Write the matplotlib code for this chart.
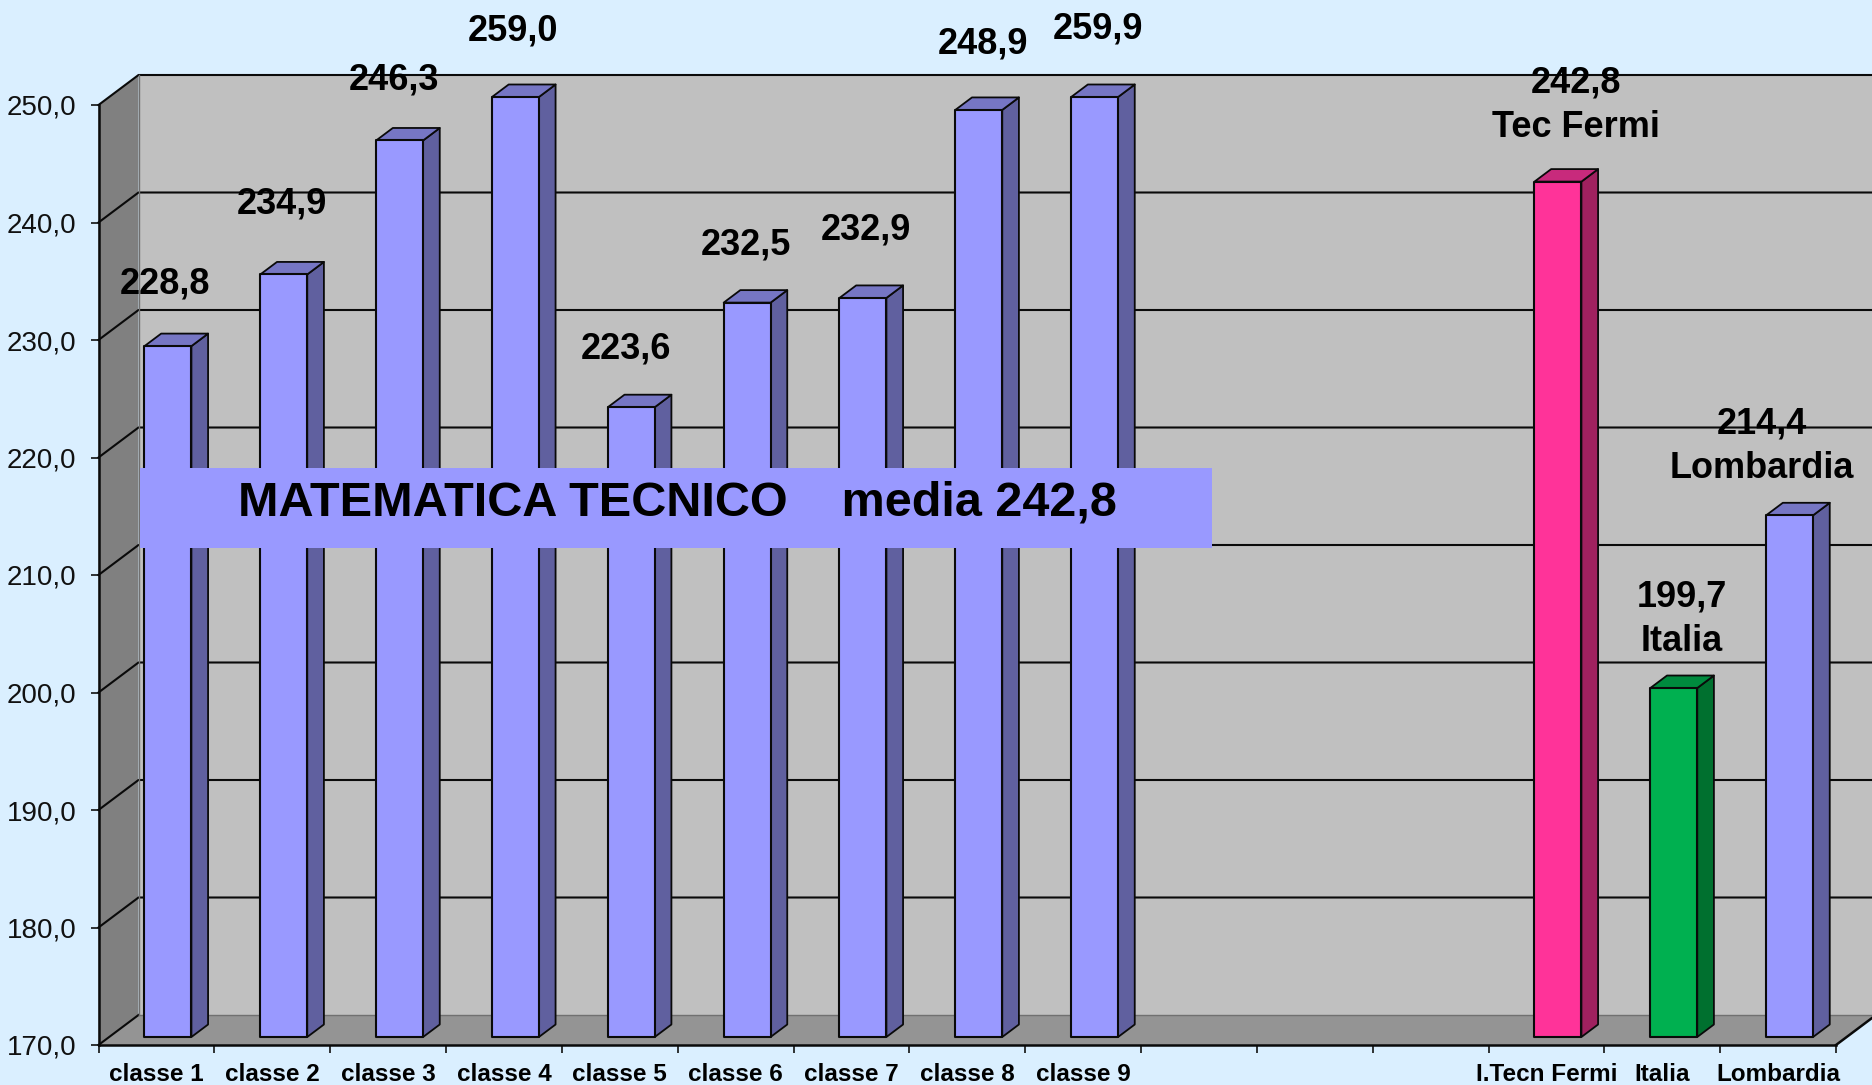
import numpy as np
import matplotlib
matplotlib.use("Agg")
import matplotlib.pyplot as plt
from matplotlib.patches import Polygon, Rectangle

# --- data ---
categories = ["classe 1", "classe 2", "classe 3", "classe 4", "classe 5", "classe 6",
              "classe 7", "classe 8", "classe 9", "", "", "",
              "I.Tecn Fermi", "Italia", "Lombardia"]
values = [228.8, 234.9, 246.3, 259.0, 223.6, 232.5, 232.9, 248.9, 259.9,
          None, None, None, 242.8, 199.7, 214.4]
y_ticks = [170, 180, 190, 200, 210, 220, 230, 240, 250]
point_labels = ["228,8", "234,9", "246,3", "259,0", "223,6", "232,5", "232,9", "248,9", "259,9",
                "", "", "", "242,8\nTec Fermi", "199,7\nItalia", "214,4\nLombardia"]
label_px = [(165, 284), (282, 204), (394, 80), (513, 31), (626, 349), (746, 245),
            (866, 230), (983, 44), (1098, 29), None, None, None,
            (1576, 105), (1682, 619), (1762, 446)]
title = "MATEMATICA TECNICO    media 242,8"

# colours: front, side, top
BLUE = ("#9999FF", "#60609F", "#7676C4")
PINK = ("#FF3399", "#A0215F", "#C82A7C")
GREEN = ("#00B050", "#00702F", "#008A3E")
bar_colors = [BLUE] * 12 + [PINK, GREEN, BLUE]

W, H = 1872, 1085
AX_L, AX_R, AX_B, AX_T = 98.5, 1836, 1045, 105
DEPTH_X, DEPTH_Y = 40, 30  # 3d offset of the back wall, pixels

fig = plt.figure(figsize=(W / 100, H / 100), dpi=100, facecolor="#DAEFFF")
plt.rcParams["font.family"] = ["Liberation Sans", "DejaVu Sans"]
ax = fig.add_axes([AX_L / W, (H - AX_B) / H, (AX_R - AX_L) / W, (AX_B - AX_T) / H])
ax.patch.set_visible(False)
ax.set_xlim(0, len(categories))
ax.set_ylim(y_ticks[0], y_ticks[-1])

# depth expressed in data units
dx = DEPTH_X / ((AX_R - AX_L) / len(categories))
dy = DEPTH_Y / ((AX_B - AX_T) / (y_ticks[-1] - y_ticks[0]))
xmin, xmax = ax.get_xlim()
ymin, ymax = ax.get_ylim()


def poly(pts, fc, ec="none", lw=0, z=1):
    ax.add_patch(Polygon(pts, closed=True, facecolor=fc, edgecolor=ec, linewidth=lw,
                         zorder=z, clip_on=False, joinstyle="round"))


# --- walls and floor ---
poly([(xmin + dx, ymin + dy), (xmax + dx, ymin + dy), (xmax + dx, ymax + dy), (xmin + dx, ymax + dy)], "#C0C0C0")
poly([(xmin, ymin), (xmin + dx, ymin + dy), (xmin + dx, ymax + dy), (xmin, ymax)], "#808080")
poly([(xmin, ymin), (xmax, ymin), (xmax + dx, ymin + dy), (xmin + dx, ymin + dy)], "#949494")

# --- gridlines, bent round the left wall ---
for t in y_ticks:
    if t == y_ticks[0]:
        continue
    ax.plot([xmin, xmin + dx, xmax + dx], [t, t + dy, t + dy], color="#0A0A0A", lw=1.5,
            zorder=2, clip_on=False)
ax.plot([xmin, xmin + dx], [ymin, ymin + dy], color="#0A0A0A", lw=1.5, zorder=2, clip_on=False)
ax.plot([xmax, xmax + dx], [ymin, ymin + dy], color="#0A0A0A", lw=1.8, zorder=2, clip_on=False)
ax.plot([xmin + dx, xmin + dx], [ymin + dy, ymax + dy], color="#707070", lw=1, zorder=2, clip_on=False)
ax.plot([xmin + dx, xmax + dx], [ymin + dy, ymin + dy], color="#707070", lw=1, zorder=2, clip_on=False)

# --- bars (clipped at the axis maximum, as in the original) ---
BAR_LEFT, BAR_W = 0.305, 0.405
D0, D1 = 8 / DEPTH_Y, 20.5 / DEPTH_Y
for i, v in enumerate(values):
    if v is None:
        continue
    top = min(v, ymax)
    front, side, lid = bar_colors[i]
    x0 = i + BAR_LEFT + D0 * dx
    x1 = x0 + BAR_W
    y0 = ymin + D0 * dy
    y1 = top + D0 * dy
    ddx = (D1 - D0) * dx
    ddy = (D1 - D0) * dy
    poly([(x1, y0), (x1 + ddx, y0 + ddy), (x1 + ddx, y1 + ddy), (x1, y1)], side, "#0A0A0A", 1.3, 3)
    poly([(x0, y1), (x1, y1), (x1 + ddx, y1 + ddy), (x0 + ddx, y1 + ddy)], lid, "#0A0A0A", 1.3, 3)
    poly([(x0, y0), (x1, y0), (x1, y1), (x0, y1)], front, "#0A0A0A", 1.5, 3)

# --- axes ---
for s in ["top", "right"]:
    ax.spines[s].set_visible(False)
for s in ["left", "bottom"]:
    ax.spines[s].set_color("#0A0A0A")
    ax.spines[s].set_linewidth(1.8)
    ax.spines[s].set_zorder(4)
ax.set_yticks(y_ticks)
ax.set_yticklabels([f"{t:.1f}".replace(".", ",") for t in y_ticks], fontsize=20, color="#111111")
ax.tick_params(axis="y", length=6, width=1.2, pad=10, color="#111111")
ax.set_xticks(np.arange(len(categories) + 1))
ax.set_xticklabels([])
ax.set_xticks(np.arange(len(categories)) + 0.5, minor=True)
ax.set_xticklabels(categories, minor=True, fontsize=17.5, fontweight="bold")
ax.tick_params(axis="x", which="major", length=6, width=1.2, color="#111111")
ax.tick_params(axis="x", which="minor", length=0, pad=13)


def px(x, y):
    # picture pixels to figure fraction
    return x / W, 1 - y / H


# --- title band ---
fig.add_artist(Rectangle(px(140, 548), (1212 - 140) / W, (548 - 468) / H, transform=fig.transFigure,
                         facecolor="#9999FF", edgecolor="none", zorder=5))
fig.text(*px(677, 503), title, fontsize=35, fontweight="bold", ha="center", va="center",
         color="black", zorder=6)

# --- value labels ---
for text, pos in zip(point_labels, label_px):
    if pos is None:
        continue
    fig.text(*px(*pos), text, fontsize=26, fontweight="bold", ha="center", va="center",
             color="black", zorder=6, linespacing=1.37)

fig.savefig("out.png", dpi=100, facecolor=fig.get_facecolor())
